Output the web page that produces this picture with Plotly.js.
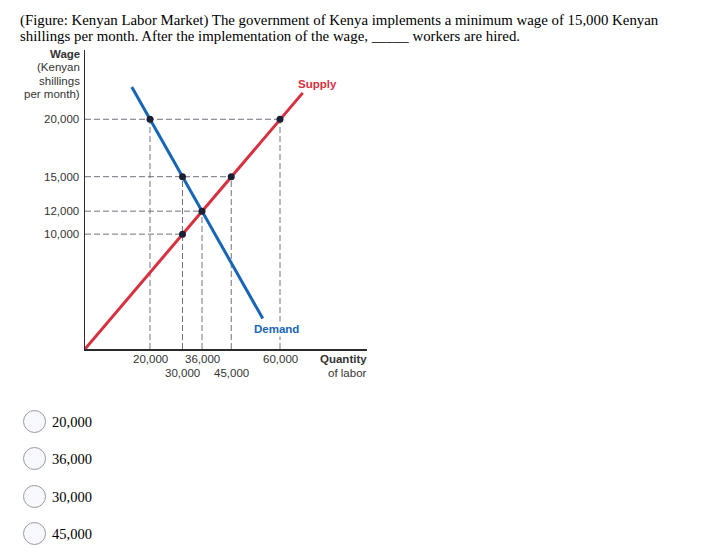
<!DOCTYPE html>
<html>
<head>
<meta charset="utf-8">
<script src="https://cdn.plot.ly/plotly-3.0.1.min.js"></script>
<style>
  html, body { margin: 0; padding: 0; background: #fff; }
  #wrap { position: relative; width: 701px; height: 556px; overflow: hidden; }
  #chart { position: absolute; left: 0; top: 0; width: 701px; height: 556px; }
  .q { position: absolute; left: 20px; font-family: "Liberation Serif", "Times New Roman", serif; font-size: 14.85px; color: #000; white-space: nowrap; line-height: 16px; z-index: 2; }
  .opt { position: absolute; left: 23px; height: 24px; z-index: 2; }
  .opt .c { position: absolute; left: 0; top: 0; width: 21px; height: 21px; border: 1.5px solid #9a9a9a; border-radius: 50%; background: #f7f9ff; box-sizing: content-box; }
  .opt .t { position: absolute; left: 29px; top: 2px; font-family: "Liberation Serif", "Times New Roman", serif; font-size: 14.5px; color: #000; white-space: nowrap; line-height: 20px; }
</style>
</head>
<body>
<div id="wrap">
  <div id="chart"></div>
  <div class="q" style="top:12px;">(Figure: Kenyan Labor Market) The government of Kenya implements a minimum wage of 15,000 Kenyan</div>
  <div class="q" style="top:28px;">shillings per month. After the implementation of the wage, _____ workers are hired.</div>
  <div id="opts"></div>
</div>
<script>
// ---- data ----
const supplyQ = [0, 67000];
const supplyW = [0, 22300];
const demandQ = [14400, 54700];
const demandW = [22800, 2650];

const pointQ = [20000, 60000, 30000, 45000, 36000, 30000];
const pointW = [20000, 20000, 15000, 15000, 12000, 10000];

// horizontal guides: wage level and the quantity where they stop
const hGuideW = [20000, 15000, 12000, 10000];
const hGuideQ = [60000, 45000, 36000, 30000];
// vertical guides: quantity and the wage where they stop
const vGuideQ = [20000, 30000, 36000, 45000, 60000];
const vGuideW = [20000, 15000, 12000, 15000, 20000];

const yTickVals = [20000, 15000, 12000, 10000];
const yTickText = ["20,000", "15,000", "12,000", "10,000"];
const xTickVals = [20000, 36000, 60000, 30000, 45000];
const xTickText = ["20,000", "36,000", "60,000", "30,000", "45,000"];
const xTickRow  = [0, 0, 0, 1, 1];

const answerOptions = ["20,000", "36,000", "30,000", "45,000"];
const yTitleLines = ["<b>Wage</b>", "(Kenyan", "shillings", "per month)"];
const xTitleLines = ["<b>Quantity</b>", "of labor"];

// ---- answer options ----
const optTops = [410, 447, 485, 522];
const optsDiv = document.getElementById('opts');
answerOptions.forEach((o, i) => {
  const d = document.createElement('div');
  d.className = 'opt';
  d.style.top = optTops[i] + 'px';
  d.innerHTML = '<div class="c"></div><div class="t">' + o + '</div>';
  optsDiv.appendChild(d);
});

// ---- chart ----
const FONT = "Liberation Sans, Arial, Helvetica, sans-serif";
const dashCol = "#72727f";
const traces = [];

hGuideW.forEach((w, i) => {
  traces.push({x: [0, hGuideQ[i]], y: [w, w], mode: 'lines', hoverinfo: 'skip',
    line: {color: dashCol, width: 1, dash: '6px,3px'}});
});
vGuideQ.forEach((q, i) => {
  traces.push({x: [q, q], y: [0, vGuideW[i]], mode: 'lines', hoverinfo: 'skip',
    line: {color: dashCol, width: 1, dash: '6px,3px'}});
});
traces.push({x: supplyQ, y: supplyW, mode: 'lines', line: {color: '#d7303e', width: 3}});
traces.push({x: demandQ, y: demandW, mode: 'lines', line: {color: '#1766b5', width: 3}});
traces.push({x: pointQ, y: pointW, mode: 'markers', marker: {color: '#1c2035', size: 7}});

const annotations = [];
yTickVals.forEach((v, i) => {
  annotations.push({xref: 'paper', yref: 'y', x: 0, y: v, text: yTickText[i], showarrow: false,
    xanchor: 'right', yanchor: 'middle', xshift: -4, font: {family: FONT, size: 11.5, color: '#333'}});
});
xTickVals.forEach((v, i) => {
  annotations.push({xref: 'x', yref: 'paper', x: v, y: 0, text: xTickText[i], showarrow: false,
    xanchor: 'center', yanchor: 'middle', yshift: -10 - xTickRow[i] * 13.5, font: {family: FONT, size: 11.5, color: '#333'}});
});
yTitleLines.forEach((t, i) => {
  annotations.push({xref: 'paper', yref: 'paper', x: 0, y: 1, text: t, showarrow: false,
    xanchor: 'right', yanchor: 'middle', xshift: -3, yshift: -4 - i * 13.3, font: {family: FONT, size: 11.5, color: '#333'}});
});
xTitleLines.forEach((t, i) => {
  annotations.push({xref: 'paper', yref: 'paper', x: 1, y: 0, text: t, showarrow: false,
    xanchor: 'right', yanchor: 'middle', xshift: 2, yshift: -10 - i * 14, font: {family: FONT, size: 11.5, color: '#333'}});
});
annotations.push({xref: 'x', yref: 'y', x: 71400, y: 23050, text: '<b>Supply</b>', showarrow: false,
  font: {family: FONT, size: 11.5, color: '#d7303e'}});
annotations.push({xref: 'x', yref: 'y', x: 58800, y: 1730, text: '<b>Demand</b>', showarrow: false,
  bgcolor: '#ffffff', font: {family: FONT, size: 11.5, color: '#1766b5'}});

const layout = {
  width: 701, height: 556,
  margin: {l: 85, r: 334, t: 50, b: 207, pad: 0},
  paper_bgcolor: '#ffffff', plot_bgcolor: 'rgba(0,0,0,0)',
  showlegend: false,
  xaxis: {range: [0, 86770], showgrid: false, zeroline: false, showticklabels: false, ticks: '',
    showline: true, linecolor: '#2a2a2a', linewidth: 1.5, fixedrange: true},
  yaxis: {range: [0, 26030], showgrid: false, zeroline: false, showticklabels: false, ticks: '',
    showline: true, linecolor: '#2a2a2a', linewidth: 1.5, fixedrange: true},
  annotations: annotations
};

Plotly.newPlot('chart', traces, layout, {displayModeBar: false, staticPlot: true});
</script>
</body>
</html>
